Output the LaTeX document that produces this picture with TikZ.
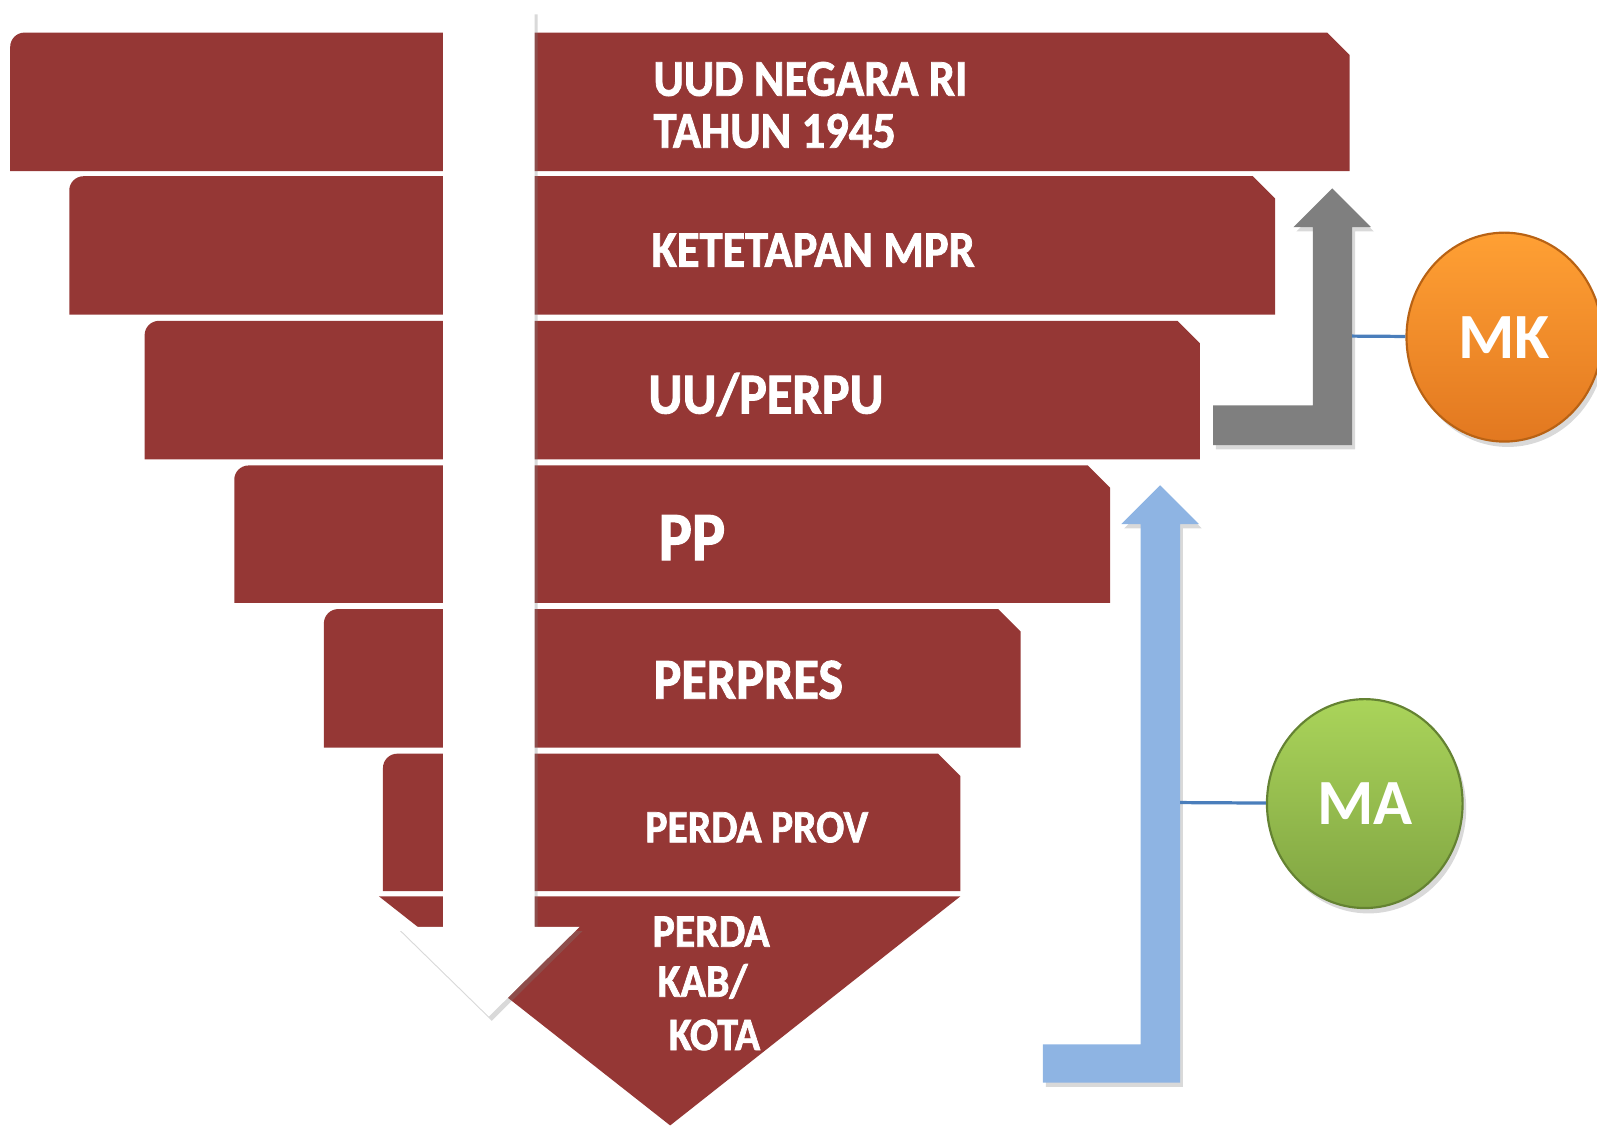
\documentclass[tikz,border=0pt]{standalone}
\usepackage{fontspec}
\setmainfont{Carlito}
\newfontfamily\lvlfont[FakeStretch=0.9,BoldFeatures={FakeBold=1.5}]{Carlito}
\usetikzlibrary{shapes.geometric,shadows}
\definecolor{lvlred}{RGB}{149,55,53}
\definecolor{mkgray}{RGB}{127,127,127}
\definecolor{mablue}{RGB}{142,180,227}
\definecolor{linkblue}{RGB}{74,126,187}
\definecolor{mktop}{RGB}{255,160,52}
\definecolor{mkbot}{RGB}{226,120,32}
\definecolor{mkrim}{RGB}{184,98,20}
\definecolor{matop}{RGB}{170,212,90}
\definecolor{mabot}{RGB}{128,164,66}
\definecolor{marim}{RGB}{100,130,50}
\newcommand{\lvlsize}[1]{\fontsize{#1}{#1}\selectfont}

\begin{document}
\begin{tikzpicture}[x=0.01cm,y=-0.01cm,
  lvl/.style={fill=lvlred},
  lbl/.style={anchor=base west,inner sep=0pt,text=white},
  bigarrow/.style={drop shadow={shadow xshift=0.8pt,shadow yshift=-1.2pt,opacity=0.3}},
  court/.style={ellipse,minimum width=1.92cm,minimum height=2.05cm,inner sep=0pt,
    text=white,line width=0.6pt,font=\bfseries\lvlsize{18},
    drop shadow={shadow xshift=1pt,shadow yshift=-1.5pt,opacity=0.3}},
  link/.style={draw=linkblue,line width=0.9pt}]
 \useasboundingbox (0,0) rectangle (1568,1106);
 \fill[lvl] (10,168) [rounded corners=4pt] -- (10,32) [sharp corners] -- (1303,32) -- (1325,54) -- (1325,168) -- cycle;
 \fill[lvl] (68,309) [rounded corners=4pt] -- (68,173) [sharp corners] -- (1230,173) -- (1252,195) -- (1252,309) -- cycle;
 \fill[lvl] (142,451) [rounded corners=4pt] -- (142,315) [sharp corners] -- (1156,315) -- (1178,337) -- (1178,451) -- cycle;
 \fill[lvl] (230,592) [rounded corners=4pt] -- (230,457) [sharp corners] -- (1068,457) -- (1090,479) -- (1090,592) -- cycle;
 \fill[lvl] (318,734) [rounded corners=4pt] -- (318,598) [sharp corners] -- (980,598) -- (1002,620) -- (1002,734) -- cycle;
 \fill[lvl] (376,875) [rounded corners=4pt] -- (376,740) [sharp corners] -- (921,740) -- (943,762) -- (943,875) -- cycle;
 \fill[lvl] (372,880) -- (943,880) -- (658,1105) -- cycle;
 \fill[white,bigarrow] (435,10) -- (525,10) -- (525,910) -- (569,910) -- (480,998) -- (390,910) -- (435,910) -- cycle;
 \fill[mkgray,bigarrow] (1191,398) -- (1289,398) -- (1289,223) -- (1270,223) -- (1308,185) -- (1346,223)
  -- (1327.6,223) -- (1327.6,437) -- (1191,437) -- cycle;
 \fill[mablue,bigarrow] (1024,1025.5) -- (1120,1025.5) -- (1120,514.5) -- (1101,514.5) -- (1139,476.5) -- (1177,514.5)
  -- (1158.6,514.5) -- (1158.6,1063) -- (1024,1063) -- cycle;
 \coordinate (mkfoot) at (1327.6,330);
 \coordinate (mafoot) at (1158.6,788);
 \node[court,top color=mktop,bottom color=mkbot,draw=mkrim] (mk) at (1477,331) {MK};
 \node[court,top color=matop,bottom color=mabot,draw=marim] (ma) at (1340,789) {MA};
 \draw[link] (mkfoot) -- (mk);
 \draw[link] (mafoot) -- (ma);
 \node[lbl,font=\lvlfont\bfseries\lvlsize{14.4}] (uud) at (641,94) {UUD NEGARA RI};
 \node[lbl,font=\lvlfont\bfseries\lvlsize{14.4}] (tahun) at (641,145) {TAHUN 1945};
 \node[lbl,font=\lvlfont\bfseries\lvlsize{14.4}] (tap) at (639,262) {KETETAPAN MPR};
 \node[lbl,font=\lvlfont\bfseries\lvlsize{16.2}] (uu) at (636,406) {UU/PERPU};
 \node[lbl,font=\lvlfont\bfseries\lvlsize{19.4}] (pp) at (646,550) {PP};
 \node[lbl,font=\lvlfont\bfseries\lvlsize{16.2}] (perpres) at (641,686) {PERPRES};
 \node[lbl,font=\lvlfont\bfseries\lvlsize{12.9}] (prov) at (633,827) {PERDA PROV};
 \node[lbl,font=\lvlfont\bfseries\lvlsize{13}] (perda) at (640,929.5) {PERDA};
 \node[lbl,font=\lvlfont\bfseries\lvlsize{13}] (kab) at (645,978.6) {KAB/};
 \node[lbl,font=\lvlfont\bfseries\lvlsize{13}] (kota) at (656,1031) {KOTA};
\end{tikzpicture}
\end{document}
